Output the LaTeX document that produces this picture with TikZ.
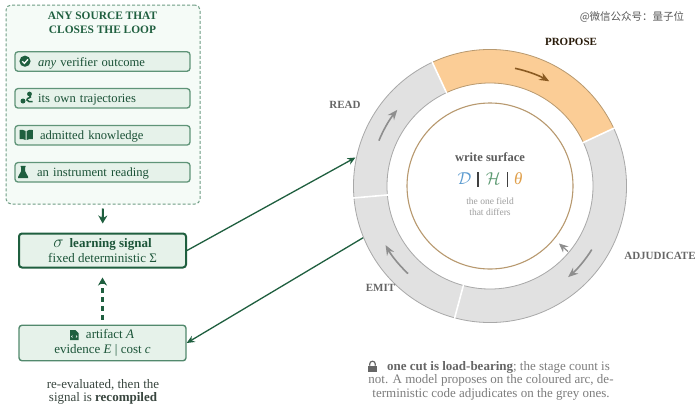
\documentclass[tikz,border=0pt]{standalone}
\usepackage{fontspec}
\setmainfont{Liberation Serif}
\newfontfamily\cjkfont{Noto Sans CJK SC}
\usetikzlibrary{arrows.meta}
\definecolor{dkgreen}{HTML}{1F5F3F}
\definecolor{midgreen}{HTML}{5F9478}
\definecolor{boxfill}{HTML}{E6F2EA}
\definecolor{panelfill}{HTML}{F5FBF7}
\definecolor{panelline}{HTML}{6E9C84}
\definecolor{ringgrey}{HTML}{E1E1E1}
\definecolor{ringedge}{HTML}{A8A8A8}
\definecolor{arrowgrey}{HTML}{8E8E8E}
\definecolor{orangefill}{HTML}{FBCD96}
\definecolor{orangeedge}{HTML}{B8996F}
\definecolor{brownarrow}{HTML}{8A5A22}
\definecolor{txtgrey}{HTML}{666666}
\newcommand{\fs}[1]{\fontsize{#1}{#1}\selectfont}
\newcommand{\ringseg}[3]{%
  \path[fill=#3] (#1:136.5) arc[start angle=#1,end angle=#2,radius=136.5] -- (#2:103) arc[start angle=#2,end angle=#1,radius=103] -- cycle;}
\newcommand{\fieldbar}{\textcolor{black!75}{\rule[-2.5pt]{1.4pt}{15pt}}}
\newcommand{\lowr}[1]{\raisebox{-1.6pt}{#1}}
\tikzset{
  panel/.style={draw=panelline,fill=panelfill,line width=1pt,densely dashed,rounded corners=5pt,minimum width=194pt,minimum height=199pt},
  itembox/.style={draw=midgreen,fill=boxfill,line width=1.3pt,rounded corners=3pt,minimum width=175pt,minimum height=19.5pt,text width=171pt,text height=9.5pt,text depth=.5pt,inner xsep=2pt,inner ysep=0pt,align=left,text=dkgreen!85!black,font=\fs{12.6}},
  signalbox/.style={draw=dkgreen,fill=boxfill,line width=2pt,rounded corners=3pt,minimum width=167pt,minimum height=34pt,inner sep=0pt,align=center,text=dkgreen!90!black,font=\fs{13}},
  artifactbox/.style={draw=midgreen!80!dkgreen,fill=boxfill,line width=1.4pt,rounded corners=3pt,minimum width=167pt,minimum height=35.5pt,inner sep=0pt,align=center,text=dkgreen!90!black,font=\fs{13}},
  linkarrow/.style={draw=dkgreen,line width=1.3pt,-{Stealth[length=8pt,width=7pt]}},
  flowarrow/.style={draw=dkgreen,line width=2.1pt,-{Stealth[length=8pt,width=9pt]}},
  cyclearrow/.style={draw=arrowgrey,line width=1.6pt,-{Stealth[length=10pt,width=8pt]}},
  stagelabel/.style={font=\fs{11}\bfseries,text=txtgrey,inner sep=0pt},
}
\begin{document}
\begin{tikzpicture}[x=1pt,y=-1pt]
\useasboundingbox (0,0) rectangle (700,405);
\fill[white] (0,0) rectangle (700,405);
% left column
\node[panel] (source) at (103,104.5) {};
\node[font=\fs{11.4}\bfseries,text=dkgreen,align=center,inner sep=0pt] (sourcetitle) at (102.5,22.5) {ANY SOURCE THAT\\[3pt]CLOSES THE LOOP};
\node[itembox] (item1) at (102.5,61.5) {\hspace*{21pt}\textit{any} verifier outcome};
\node[itembox] (item2) at (102.5,98.3) {\hspace*{21pt}its own trajectories};
\node[itembox] (item3) at (102.5,135.3) {\hspace*{23pt}admitted knowledge};
\node[itembox] (item4) at (102.5,172.3) {\hspace*{20pt}an instrument reading};
\node[signalbox] (signal) at (102.5,250.5) {\lowr{{\fs{16}$\sigma$}\hspace{6pt}\textbf{learning signal}}\\[2pt]\lowr{fixed deterministic Σ}};
\node[artifactbox] (artifact) at (102.5,343) {\lowr{\hspace*{15pt}artifact \textit{A}}\\[1.5pt]\lowr{evidence \textit{E} | cost \textit{c}}};
\node[font=\fs{13},text=txtgrey!70!dkgreen!70!black,align=center,inner sep=0pt] (recompile) at (103,391.8) {re-evaluated, then the\\[0pt]signal is \textbf{recompiled}};
% icons
\fill[dkgreen] (25,61.2) circle (5.6);
\draw[white,line width=1.3pt] (22.3,61.2) -- (24.4,63.4) -- (28,59.3);
\fill[dkgreen] (23,101) circle (2.5);
\fill[dkgreen] (29.5,94) circle (2.4);
\draw[dkgreen,line width=1.5pt] (29.5,95) .. controls (33,99) and (26,97) .. (27,100) .. controls (27.5,102) and (30,101.5) .. (32.5,101.5);
\fill[dkgreen] (19.5,130) .. controls (22,129.5) and (24,130) .. (25.7,131) -- (25.7,140) .. controls (24,139) and (22,139) .. (19.5,139) -- cycle;
\fill[dkgreen] (32.8,130) .. controls (30,129.5) and (28,130) .. (26.7,131) -- (26.7,140) .. controls (28,139) and (30,139) .. (32.8,139) -- cycle;
\fill[dkgreen] (20.5,165.8) -- (25.7,165.8) -- (25.7,167) -- (25,167) -- (25,171) -- (28.2,177) -- (28,178) -- (18.2,178) -- (18,177) -- (21.2,171) -- (21.2,167) -- (20.5,167) -- cycle;
\fill[dkgreen] (70,330) -- (75.5,330) -- (78.5,333) -- (78.5,340) -- (70,340) -- cycle;
\draw[white,line width=.5pt] (72.5,335.5) -- (71.5,336.5) -- (72.5,337.5) (76,335.5) -- (77,336.5) -- (76,337.5);
% left connectors
\draw[flowarrow,shorten <=4pt,shorten >=9pt] (source.south) -- (signal.north);
\draw[flowarrow,dash pattern=on 5pt off 4pt,shorten <=5pt,shorten >=9pt] (artifact.north) -- (signal.south);
\coordinate (ringin) at (355.5,157.5);
\coordinate (ringout) at (363.5,237.5);
\draw[linkarrow] (signal.east) -- (ringin);
\draw[linkarrow] (ringout) -- (artifact.east);
% ring
\begin{scope}[shift={(490,186)},y=1pt]
  \ringseg{115}{25}{orangefill}
  \ringseg{115}{185}{ringgrey}
  \ringseg{185}{255}{ringgrey}
  \ringseg{255}{385}{ringgrey}
  \draw[ringedge,line width=.8pt] (115:136.5) arc[start angle=115,end angle=385,radius=136.5];
  \draw[ringedge,line width=.8pt] (115:103) arc[start angle=115,end angle=385,radius=103];
  \draw[orangeedge,line width=.8pt] (25:136.5) arc[start angle=25,end angle=115,radius=136.5];
  \draw[orangeedge,line width=.8pt] (25:103) arc[start angle=25,end angle=115,radius=103];
  \foreach \a in {25,115,185,255} \draw[white,line width=1.6pt] (\a:102) -- (\a:137.5);
  \draw[orangeedge,line width=1.1pt] (0,0) circle (83);
  \draw[brownarrow,line width=1.6pt,-{Stealth[length=10pt,width=8pt]}] (78:120.3) arc[start angle=78,end angle=60.5,radius=120.3];
  \draw[cyclearrow] (157.8:120) arc[start angle=157.8,end angle=140.6,radius=120];
  \draw[cyclearrow] (-32:120) arc[start angle=-32,end angle=-49.4,radius=120];
  \draw[cyclearrow] (226.9:120) arc[start angle=226.9,end angle=209.5,radius=120];
\end{scope}
\coordinate (gapa) at (568,251.5);
\coordinate (gapb) at (559,243.5);
\draw[draw=arrowgrey,line width=1.2pt,-{Stealth[length=9pt,width=8pt]}] (gapa) -- (gapb);
% ring labels
\node[stagelabel,text=black!70!brownarrow] (propose) at (571,42) {PROPOSE};
\node[stagelabel] (read) at (345,105) {READ};
\node[stagelabel] (adjudicate) at (660,256) {ADJUDICATE};
\node[stagelabel] (emit) at (380.5,288) {EMIT};
% centre
\node[font=\fs{12.5}\bfseries,text=txtgrey!90!black,inner sep=0pt] (write) at (490,157) {write surface};
\node[font=\fs{17.5},inner sep=0pt] (fields) at (490,179) {\textcolor[HTML]{5B9BD0}{$\mathcal{D}$}\hspace{6pt}\fieldbar\hspace{7pt}\textcolor[HTML]{5C9A72}{$\mathcal{H}$}\hspace{6pt}\fieldbar\hspace{6pt}\textcolor[HTML]{E0A04C}{\fs{17}\textit{θ}}};
\node[font=\fs{9.5},text=black!38,align=center,inner sep=0pt] (differs) at (490,207) {the one field\\[1.2pt]that differs};
% caption
\node[font=\fs{13},text=txtgrey!85,align=center,inner sep=0pt] (caption) at (491,380.5) {\hspace*{15pt}\textcolor{txtgrey}{\textbf{one cut is load-bearing}}; the stage count is\\[.5pt]not. A model proposes on the coloured arc, de-\\[.5pt]terministic code adjudicates on the grey ones.};
\fill[txtgrey] (367.7,365.5) rectangle (377.3,371.7);
\draw[txtgrey,line width=1.2pt] (369.7,365.5) -- (369.7,364) arc[start angle=180,end angle=0,x radius=2.8,y radius=-2.8] -- (375.3,365.5);
% watermark
\node[font=\cjkfont\fs{10.5},text=black!65,inner sep=0pt] (mark) at (632,17) {@微信公众号：量子位};
\end{tikzpicture}
\end{document}
